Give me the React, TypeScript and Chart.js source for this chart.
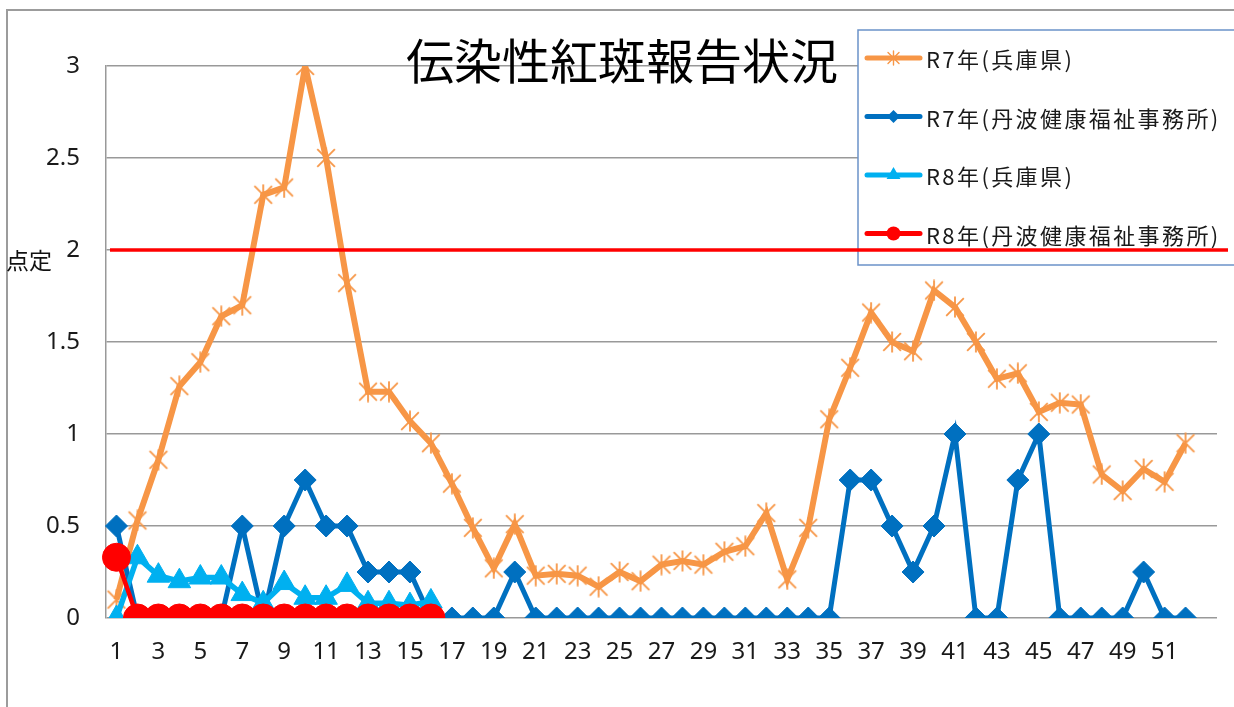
import React, { useEffect, useRef } from 'react';
import { Chart, registerables } from 'chart.js';

Chart.register(...registerables);

const WEEKS = [
  '1', '2', '3', '4', '5', '6', '7', '8', '9', '10', '11', '12', '13', '14', '15', '16', '17', '18',
  '19', '20', '21', '22', '23', '24', '25', '26', '27', '28', '29', '30', '31', '32', '33', '34', '35',
  '36', '37', '38', '39', '40', '41', '42', '43', '44', '45', '46', '47', '48', '49', '50', '51', '52', '',
];

const R7_HYOGO = [
  0.1, 0.53, 0.86, 1.26, 1.39, 1.64, 1.7, 2.3, 2.34, 3.0, 2.5, 1.82, 1.23, 1.23, 1.07, 0.95, 0.73, 0.49,
  0.27, 0.51, 0.23, 0.24, 0.23, 0.17, 0.25, 0.2, 0.29, 0.31, 0.29, 0.36, 0.39, 0.57, 0.21, 0.49, 1.08,
  1.36, 1.66, 1.5, 1.45, 1.78, 1.69, 1.5, 1.3, 1.33, 1.12, 1.17, 1.16, 0.78, 0.69, 0.81, 0.74, 0.95,
];

const R7_TAMBA = [
  0.5, 0, 0, 0, 0, 0, 0.5, 0, 0.5, 0.75, 0.5, 0.5, 0.25, 0.25, 0.25, 0, 0, 0,
  0, 0.25, 0, 0, 0, 0, 0, 0, 0, 0, 0, 0, 0, 0, 0, 0, 0,
  0.75, 0.75, 0.5, 0.25, 0.5, 1, 0, 0, 0.75, 1, 0, 0, 0, 0, 0.25, 0, 0,
];

const R8_HYOGO = [0, 0.33, 0.23, 0.2, 0.22, 0.22, 0.13, 0.08, 0.19, 0.11, 0.11, 0.18, 0.08, 0.08, 0.07, 0.09];

const R8_TAMBA = [0.33, 0, 0, 0, 0, 0, 0, 0, 0, 0, 0, 0, 0, 0, 0, 0];

const SERIES_NAMES = ['R7年(兵庫県)', 'R7年(丹波健康福祉事務所)', 'R8年(兵庫県)', 'R8年(丹波健康福祉事務所)'];
const SERIES_COLORS = ['#f79646', '#0070c0', '#00b0f0', '#ff0000'];

const TITLE = '伝染性紅斑報告状況';
const Y_LABEL = '点定';
const THRESHOLD = 2;
const Y_MIN = 0;
const Y_MAX = 3;
const Y_STEP = 0.5;

const CJK = '"Noto Sans CJK JP", "Noto Sans", sans-serif';
const LATIN = '"Noto Sans", "Noto Sans CJK JP", sans-serif';

function makeAsterisk(size: number, color: string, lw: number): HTMLCanvasElement {
  const c = document.createElement('canvas');
  c.width = size;
  c.height = size;
  const g = c.getContext('2d')!;
  g.strokeStyle = color;
  g.lineWidth = lw;
  const h = size / 2;
  const a = h * 0.8;
  g.beginPath();
  g.moveTo(h - a, h - a);
  g.lineTo(h + a, h + a);
  g.moveTo(h + a, h - a);
  g.lineTo(h - a, h + a);
  g.moveTo(h, 0.5);
  g.lineTo(h, size - 0.5);
  g.stroke();
  return c;
}

function drawLegendMarker(ctx: CanvasRenderingContext2D, kind: number, x: number, y: number, color: string) {
  ctx.save();
  ctx.fillStyle = color;
  ctx.strokeStyle = color;
  if (kind === 0) {
    ctx.lineWidth = 1.4;
    const a = 5.5;
    ctx.beginPath();
    ctx.moveTo(x - a, y - a);
    ctx.lineTo(x + a, y + a);
    ctx.moveTo(x + a, y - a);
    ctx.lineTo(x - a, y + a);
    ctx.moveTo(x, y - 7);
    ctx.lineTo(x, y + 7);
    ctx.stroke();
  } else if (kind === 1) {
    const r = 6.5;
    ctx.beginPath();
    ctx.moveTo(x - r, y);
    ctx.lineTo(x, y - r);
    ctx.lineTo(x + r, y);
    ctx.lineTo(x, y + r);
    ctx.closePath();
    ctx.fill();
  } else if (kind === 2) {
    const r = 8;
    ctx.beginPath();
    ctx.moveTo(x, y - r);
    ctx.lineTo(x + r * 0.87, y + r * 0.5);
    ctx.lineTo(x - r * 0.87, y + r * 0.5);
    ctx.closePath();
    ctx.fill();
  } else {
    ctx.beginPath();
    ctx.arc(x, y, 7, 0, Math.PI * 2);
    ctx.fill();
  }
  ctx.restore();
}

const decorPlugin = {
  id: 'decor',
  beforeDraw(chart: any) {
    const { ctx, width, height } = chart;
    ctx.save();
    ctx.fillStyle = '#ffffff';
    ctx.fillRect(0, 0, width, height);
    ctx.strokeStyle = '#9c9c9c';
    ctx.lineWidth = 2;
    ctx.beginPath();
    ctx.moveTo(7, height);
    ctx.lineTo(7, 10);
    ctx.lineTo(width, 10);
    ctx.stroke();
    ctx.restore();
  },
  afterDatasetsDraw(chart: any) {
    const { ctx, width, chartArea } = chart;
    ctx.save();

    // title
    ctx.fillStyle = '#000000';
    ctx.font = `48px ${CJK}`;
    ctx.textAlign = 'center';
    ctx.textBaseline = 'middle';
    ctx.fillText(TITLE, 622, 61);

    // y axis label
    ctx.font = `23px ${CJK}`;
    ctx.textAlign = 'left';
    ctx.fillStyle = '#111111';
    ctx.fillText(Y_LABEL, 6, 260);

    // legend
    const lx = 858;
    const ly = 30;
    ctx.fillStyle = '#ffffff';
    ctx.fillRect(lx, ly, 420, 235);
    ctx.strokeStyle = '#6b92c9';
    ctx.lineWidth = 1.5;
    ctx.strokeRect(lx, ly, 420, 235);
    chart.data.datasets.forEach((ds: any, i: number) => {
      const y = ly + 28 + i * 58.5;
      ctx.strokeStyle = ds.borderColor;
      ctx.lineWidth = 5;
      ctx.lineCap = 'round';
      ctx.beginPath();
      ctx.moveTo(867, y);
      ctx.lineTo(920, y);
      ctx.stroke();
      drawLegendMarker(ctx, i, 893.5, y, ds.borderColor);
      ctx.fillStyle = '#1a1a1a';
      ctx.font = `22px ${CJK}`;
      (ctx as any).letterSpacing = '2.4px';
      ctx.textAlign = 'left';
      ctx.textBaseline = 'middle';
      ctx.fillText(ds.label, 926, y + 2);
      (ctx as any).letterSpacing = '0px';
    });

    // threshold line
    const ty = chart.scales.y.getPixelForValue(THRESHOLD);
    ctx.strokeStyle = '#ff0000';
    ctx.lineWidth = 3.5;
    ctx.lineCap = 'butt';
    ctx.beginPath();
    ctx.moveTo(chartArea.left + 4, ty);
    ctx.lineTo(width - 6, ty);
    ctx.stroke();

    ctx.restore();
  },
};

export default function App() {
  const canvasRef = useRef<HTMLCanvasElement | null>(null);

  useEffect(() => {
    if (!canvasRef.current) return;
    const star = makeAsterisk(22, SERIES_COLORS[0], 1.8);
    const pad = (arr: number[]) => WEEKS.map((_, i) => (i < arr.length ? arr[i] : null));

    const chart = new Chart(canvasRef.current, {
      type: 'line',
      data: {
        labels: WEEKS,
        datasets: [
          {
            label: SERIES_NAMES[0],
            data: pad(R7_HYOGO),
            borderColor: SERIES_COLORS[0],
            backgroundColor: SERIES_COLORS[0],
            borderWidth: 6,
            pointStyle: star as any,
            pointRadius: 11,
            order: 4,
            tension: 0,
          },
          {
            label: SERIES_NAMES[1],
            data: pad(R7_TAMBA),
            borderColor: SERIES_COLORS[1],
            backgroundColor: SERIES_COLORS[1],
            borderWidth: 5,
            pointStyle: 'rectRot',
            pointRadius: 11,
            pointBorderWidth: 1,
            order: 3,
            tension: 0,
          },
          {
            label: SERIES_NAMES[2],
            data: pad(R8_HYOGO),
            borderColor: SERIES_COLORS[2],
            backgroundColor: SERIES_COLORS[2],
            borderWidth: 5.5,
            pointStyle: 'triangle',
            pointRadius: 13,
            pointBorderWidth: 1,
            order: 2,
            tension: 0,
          },
          {
            label: SERIES_NAMES[3],
            data: pad(R8_TAMBA),
            borderColor: SERIES_COLORS[3],
            backgroundColor: SERIES_COLORS[3],
            borderWidth: 4.5,
            pointStyle: 'circle',
            pointRadius: 14,
            pointBorderWidth: 1,
            order: 1,
            tension: 0,
          },
        ],
      },
      options: {
        responsive: false,
        animation: false,
        events: [],
        layout: { padding: { left: 0, top: 66, right: 17, bottom: 0 } },
        plugins: {
          legend: { display: false },
          title: { display: false },
          tooltip: { enabled: false },
        },
        scales: {
          x: {
            type: 'category',
            offset: true,
            grid: { display: false, drawTicks: false },
            border: { display: false },
            ticks: {
              autoSkip: false,
              maxRotation: 0,
              minRotation: 0,
              padding: 20,
              color: '#1a1a1a',
              font: { family: LATIN, size: 24 },
              callback: (_v: any, i: number) => (i % 2 === 0 ? WEEKS[i] : ''),
            },
            afterFit: (scale: any) => {
              scale.height = 89;
            },
          },
          y: {
            min: Y_MIN,
            max: Y_MAX,
            grid: { color: '#999999', lineWidth: 1.5, drawTicks: false },
            border: { display: true, color: '#999999', width: 1.5 },
            ticks: {
              stepSize: Y_STEP,
              padding: 26,
              color: '#1a1a1a',
              font: { family: LATIN, size: 24 },
              callback: (v: any) => String(Number(v)),
            },
            afterFit: (scale: any) => {
              scale.width = 106;
            },
          },
        },
      },
      plugins: [decorPlugin],
    });

    return () => chart.destroy();
  }, []);

  return (
    <div style={{ position: 'absolute', left: 0, top: 0, width: 1234, height: 707, background: '#fff' }}>
      <canvas ref={canvasRef} width={1234} height={707} style={{ display: 'block' }} />
    </div>
  );
}
